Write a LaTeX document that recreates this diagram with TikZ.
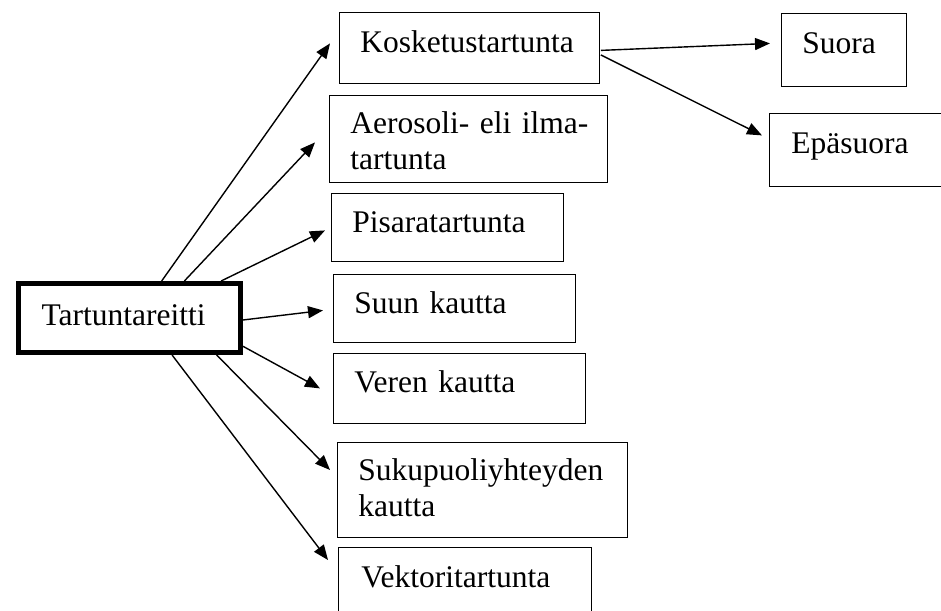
\documentclass[tikz,border=0pt]{standalone}
\usepackage{fontspec}
\setmainfont{Liberation Serif}
\usetikzlibrary{calc,arrows.meta}
\tikzset{
  box/.style={draw, line width=0.8pt, anchor=north west, align=left,
    inner ysep=0pt, inner xsep=21pt, font=\fontsize{31.5}{36}\selectfont},
  arr/.style={-{Triangle[length=15pt,width=12pt]}, line width=1.4pt}
}
\begin{document}
\begin{tikzpicture}[x=1pt, y=-1pt]
    \clip (0,0) rectangle (941,610);

    % boxes
    \node [box, line width=5pt, inner xsep=23pt, text width=176pt,
      text height=42pt, text depth=27pt] (T) at (16,281) {Tartuntareitti};
    \node [box, text width=218pt, text height=40pt, text depth=31pt] (K) at (339,12) {Kosketustartunta};
    \node [box, text width=236pt, text height=38pt, text depth=49pt] (Ae) at (329,95) {\mbox{Aerosoli- eli ilma-}\\tartunta};
    \node [box, text width=190pt, text height=39pt, text depth=29pt] (Pi) at (331,193) {Pisaratartunta};
    \node [box, text width=200pt, text height=39pt, text depth=29pt] (Su) at (333,274) {Suun kautta};
    \node [box, text width=210pt, text height=39pt, text depth=31pt] (Ve) at (333,353) {Veren kautta};
    \node [box, text width=248pt, text height=38pt, text depth=57pt] (Sk) at (337,442) {Sukupuoliyhteyden\\kautta};
    \node [box, inner xsep=23pt, text width=207pt, text height=40pt, text depth=40pt] (Vk) at (338,547) {Vektoritartunta};
    \node [box, text width=83pt, text height=40pt, text depth=33pt] (So) at (781,13) {Suora};
    \node [box, inner xsep=22pt, text width=147pt, text height=40pt, text depth=33pt] (Ep) at (769,113) {Epäsuora};

    % arrows
    \draw [arr] (T.49) -- ($(K.west)+(-9,-4.5)$);
    \draw [arr] (T.34) -- ($(Ae.west)+(-14,3.5)$);
    \draw [arr] (T.22) -- ($(Pi.west)+(-6,3)$);
    \draw [arr] (T.-1) -- ($(Su.west)+(-10,2)$);
    \draw [arr] (T.-14) -- ($(Ve.west)+(-13,0)$);
    \draw [arr] (T.-23.5) -- ($(Sk.north west)+(-7,28)$);
    \draw [arr] (T.-41) -- ($(Vk.north west)+(-10,13)$);
    \draw [arr] ($(K.east)+(1,2.5)$) -- ($(So.west)+(-11,-6.5)$);
    \draw [arr] ($(K.east)+(1,7)$) -- ($(Ep.west)+(-7,-14.5)$);
\end{tikzpicture}
\end{document}
